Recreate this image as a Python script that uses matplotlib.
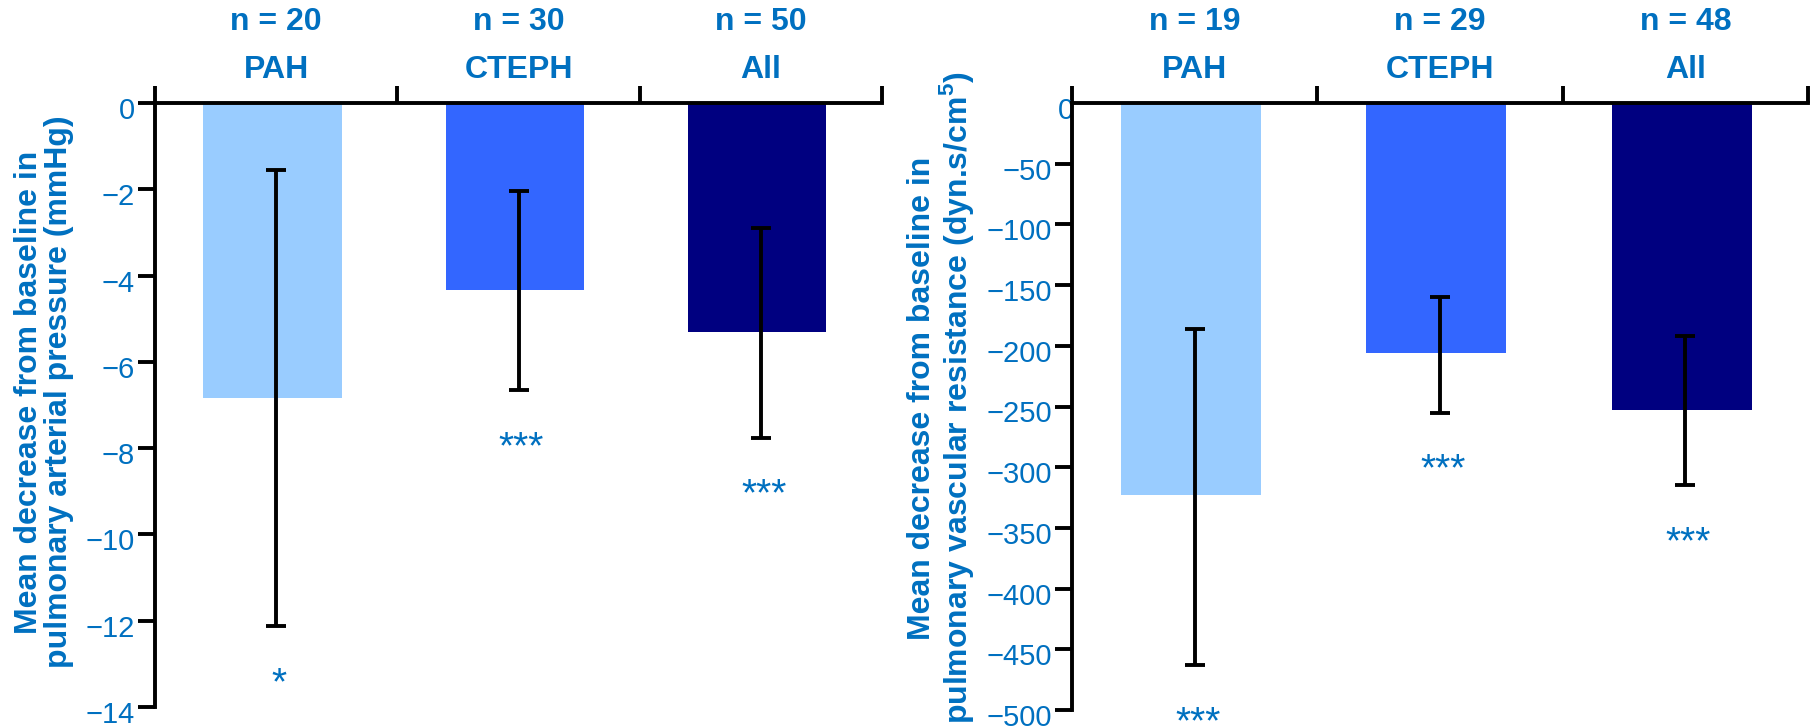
import matplotlib
matplotlib.use("Agg")
import matplotlib.pyplot as plt
import numpy as np

plt.rcParams['font.family'] = ['Liberation Sans', 'DejaVu Sans']
plt.rcParams['mathtext.fontset'] = 'custom'
plt.rcParams['mathtext.rm'] = 'Liberation Sans'
plt.rcParams['mathtext.bf'] = 'Liberation Sans:bold'

# ---- data ----
categories = ["PAH", "CTEPH", "All"]
n_left = ["n = 20", "n = 30", "n = 50"]
n_right = ["n = 19", "n = 29", "n = 48"]

mpap_mean = [-6.84, -4.34, -5.31]
mpap_ci_low = [-12.13, -6.65, -7.76]
mpap_ci_high = [-1.56, -2.04, -2.89]
mpap_sig = ["*", "***", "***"]

pvr_mean = [-323, -206, -253]
pvr_ci_low = [-463, -255, -315]
pvr_ci_high = [-186, -160, -192]
pvr_sig = ["***", "***", "***"]

left_ticks = [0, -2, -4, -6, -8, -10, -12, -14]
right_ticks = [0, -50, -100, -150, -200, -250, -300, -350, -400, -450, -500]

bar_colors = ["#99CCFF", "#3366FF", "#000080"]
txt_color = "#0070C0"
LW = 2.8

fig = plt.figure(figsize=(18.14, 7.28), dpi=100)
ax1 = fig.add_axes([155/1814, 21/728, 727/1814, 604/728])
ax2 = fig.add_axes([1072/1814, 18/728, 736/1814, 607/728])


def fmt(t):
    return ("\u2212" + str(abs(t))) if t < 0 else str(t)


def draw(ax, mean, lo, hi, sig, ns, ticks, zero_inside=False):
    x = np.arange(len(categories))
    mean = np.array(mean, float)
    yerr = np.vstack([mean - np.array(lo, float), np.array(hi, float) - mean])
    ax.bar(x - 0.015, mean, width=0.57, color=bar_colors, zorder=1)
    ax.errorbar(x, mean, yerr=yerr, fmt='none', ecolor='black', elinewidth=LW,
                capsize=7.5, capthick=LW, zorder=3)
    ax.set_xlim(-0.5, 2.5)
    ax.set_ylim(min(ticks), 0)
    for s in ['right', 'bottom']:
        ax.spines[s].set_visible(False)
    for s in ['left', 'top']:
        ax.spines[s].set_linewidth(LW)
        ax.spines[s].set_zorder(4)
    ax.xaxis.tick_top()
    ax.set_xticks([-0.5, 0.5, 1.5, 2.5])
    ax.set_xticklabels([])
    ax.tick_params(axis='x', direction='out', length=12, width=LW, top=True, bottom=False)
    ax.set_yticks(ticks)
    ax.set_yticklabels([])
    ax.tick_params(axis='y', direction='out', length=12, width=LW)
    ytr = ax.get_yaxis_transform()
    for t in ticks:
        if zero_inside and t == 0:
            ax.yaxis.get_major_ticks()[0].tick1line.set_visible(False)
            ax.annotate(fmt(t), xy=(0, t), xycoords=ytr, xytext=(-6, -8),
                        textcoords='offset pixels', ha='center', va='center',
                        fontsize=21, color=txt_color, annotation_clip=False)
        else:
            ax.annotate(fmt(t), xy=(0, t), xycoords=ytr, xytext=(-20, -8),
                        textcoords='offset pixels', ha='right', va='center',
                        fontsize=21, color=txt_color, annotation_clip=False)
    trans = ax.get_xaxis_transform()
    for i, (c, n) in enumerate(zip(categories, ns)):
        ax.text(i, 1.055, c, transform=trans, ha='center', va='center', fontsize=23,
                fontweight='bold', color=txt_color)
        ax.text(i, 1.134, n, transform=trans, ha='center', va='center', fontsize=23,
                fontweight='bold', color=txt_color)
    for i, (s, l) in enumerate(zip(sig, lo)):
        ax.annotate(s, xy=(i, l), xytext=(3, -68), textcoords='offset pixels',
                    ha='center', va='baseline', fontsize=28, color=txt_color)
    return ax


draw(ax1, mpap_mean, mpap_ci_low, mpap_ci_high, mpap_sig, n_left, left_ticks)
draw(ax2, pvr_mean, pvr_ci_low, pvr_ci_high, pvr_sig, n_right, right_ticks,
     zero_inside=True)

fig.text(44/1814, 1 - 392/728,
         "Mean decrease from baseline in\npulmonary arterial pressure (mmHg)",
         rotation=90, ha='center', va='center', fontsize=23, fontweight='bold',
         color=txt_color, linespacing=1.0, multialignment='center')
fig.text(942/1814, 1 - 398/728,
         "Mean decrease from baseline in\npulmonary vascular resistance (dyn.s/cm$^{\\mathbf{5}}$)",
         rotation=90, ha='center', va='center', fontsize=23, fontweight='bold',
         color=txt_color, linespacing=1.0, multialignment='center')

fig.savefig("out.png", dpi=100)
